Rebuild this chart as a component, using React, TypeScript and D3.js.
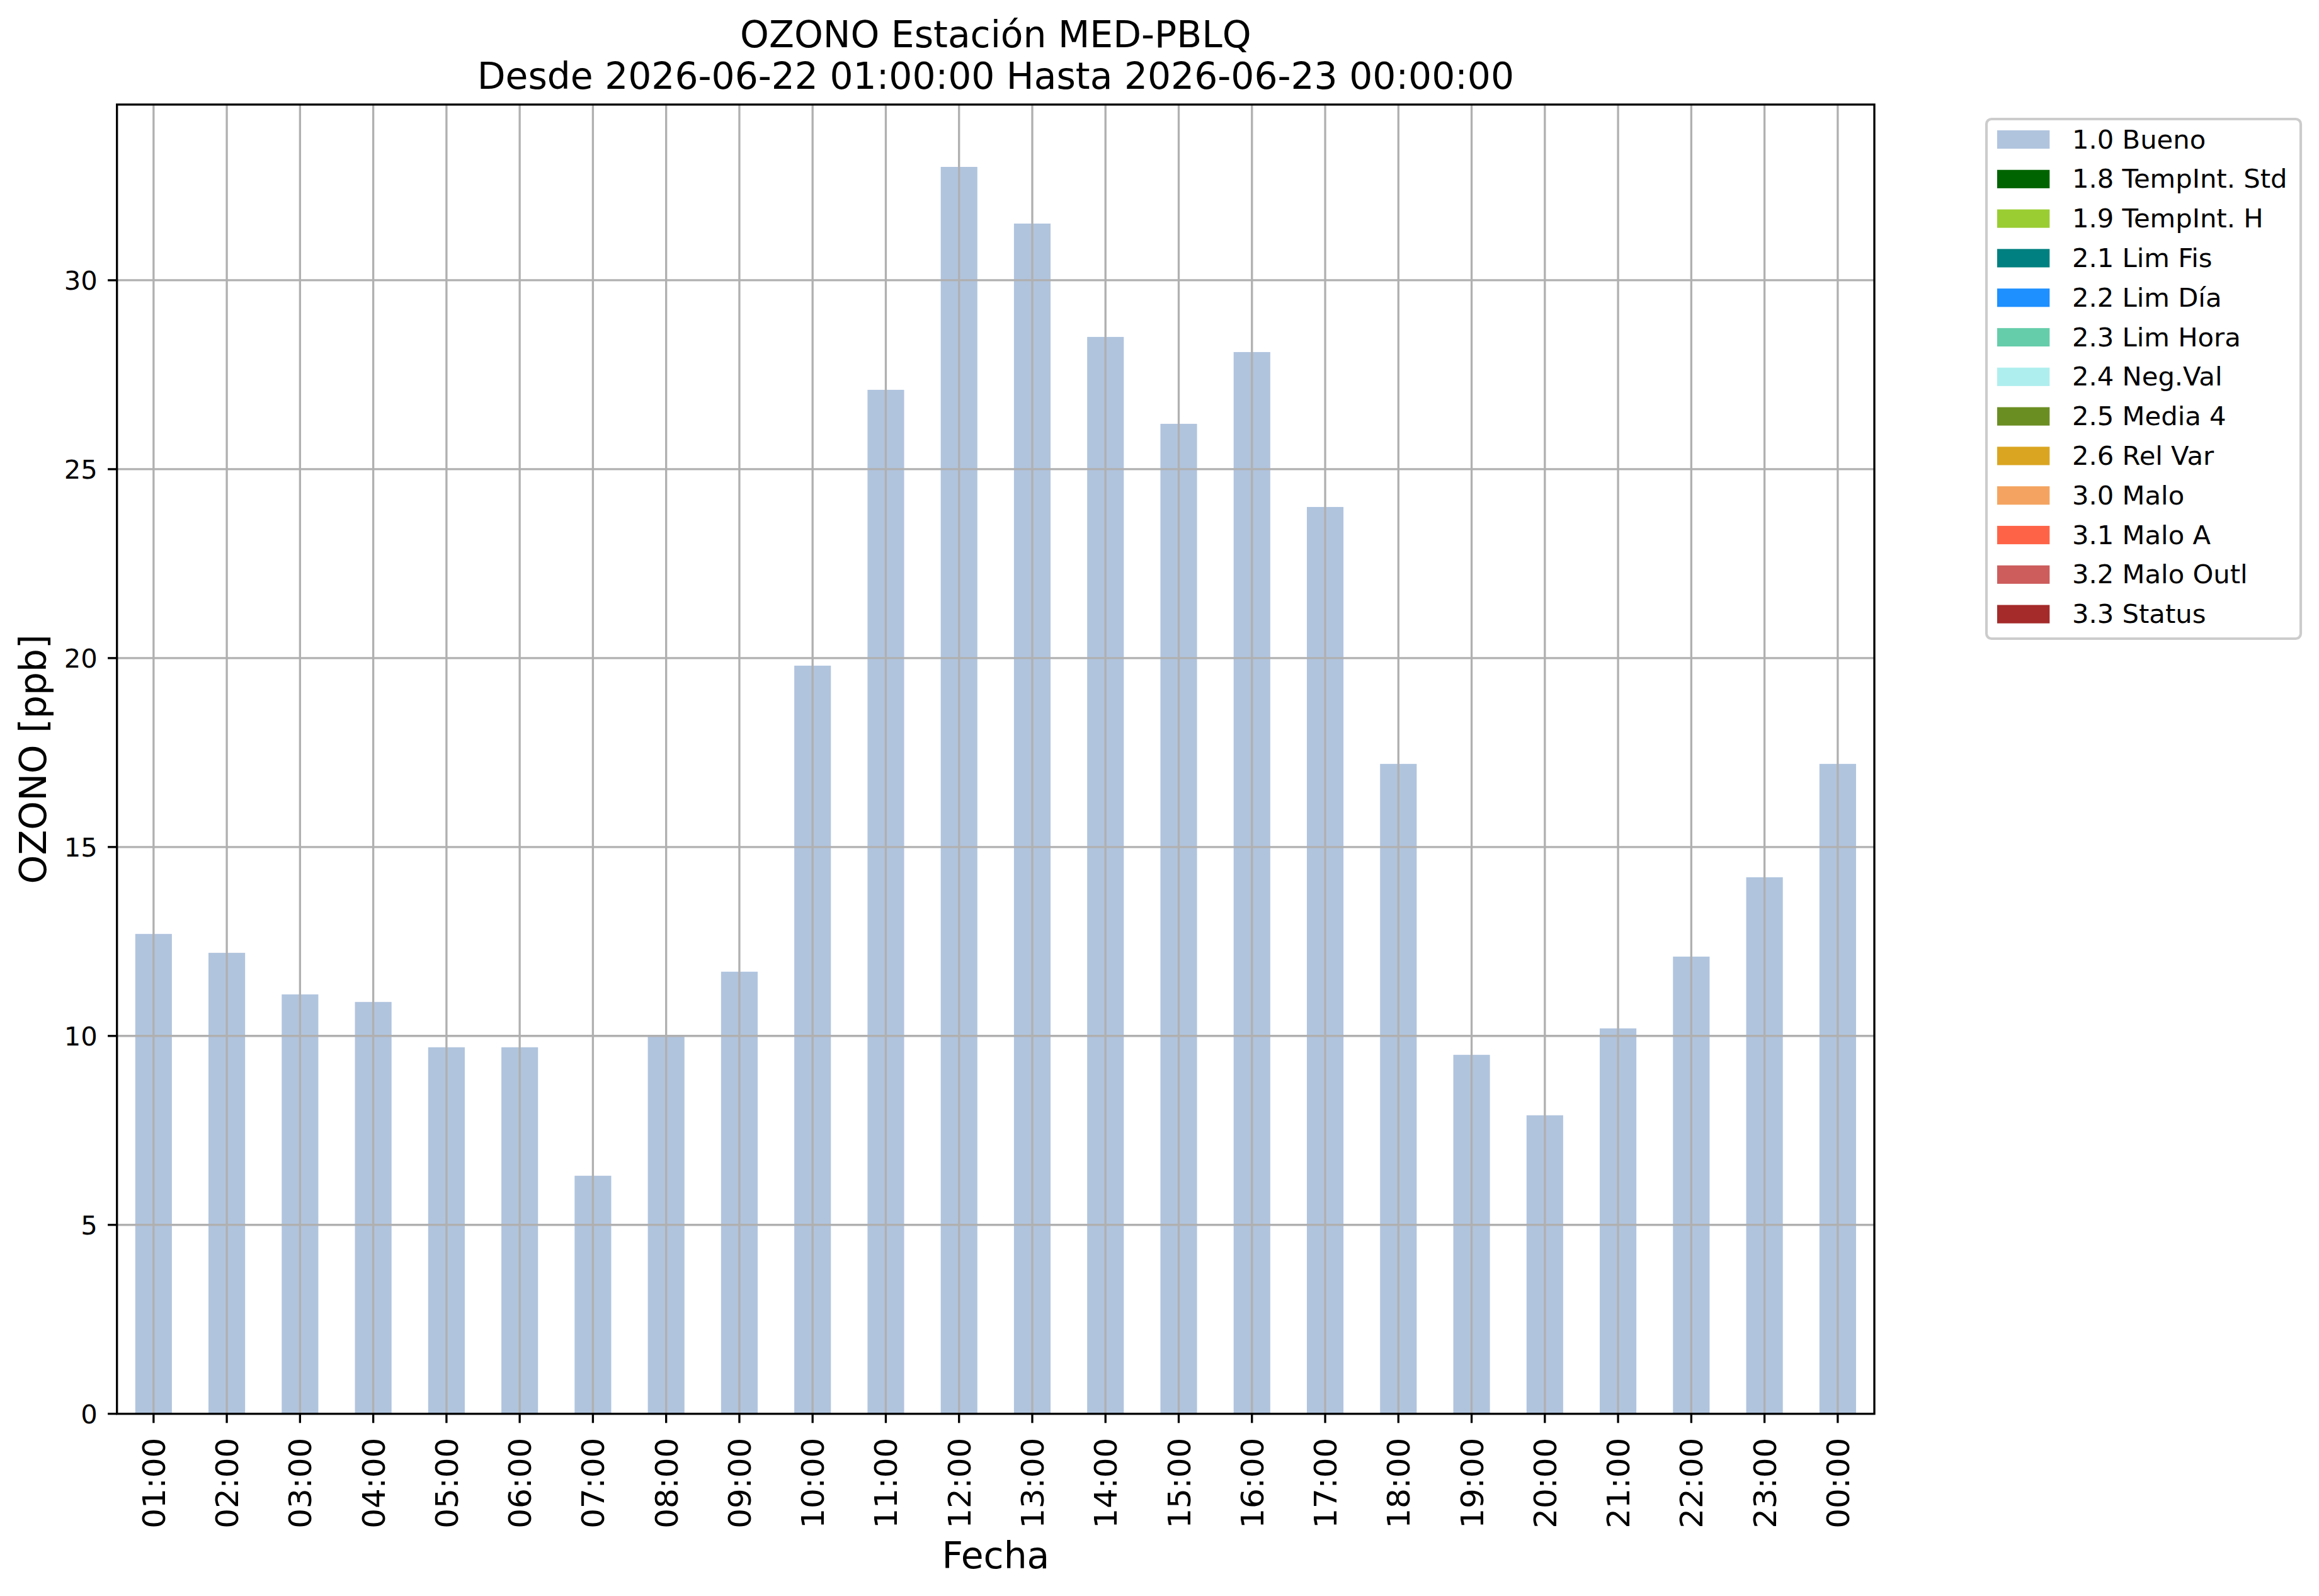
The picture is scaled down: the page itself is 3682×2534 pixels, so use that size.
import React from 'react';
import * as d3 from 'd3';

// hourly ozone values
const hours = [
  '01:00', '02:00', '03:00', '04:00', '05:00', '06:00', '07:00', '08:00',
  '09:00', '10:00', '11:00', '12:00', '13:00', '14:00', '15:00', '16:00',
  '17:00', '18:00', '19:00', '20:00', '21:00', '22:00', '23:00', '00:00',
];
const ozono = [
  12.7, 12.2, 11.1, 10.9, 9.7, 9.7, 6.3, 10.0,
  11.7, 19.8, 27.1, 33.0, 31.5, 28.5, 26.2, 28.1,
  24.0, 17.2, 9.5, 7.9, 10.2, 12.1, 14.2, 17.2,
];
const yTicks = [0, 5, 10, 15, 20, 25, 30];

const legendLabels = [
  '1.0 Bueno', '1.8 TempInt. Std', '1.9 TempInt. H', '2.1 Lim Fis',
  '2.2 Lim Día', '2.3 Lim Hora', '2.4 Neg.Val', '2.5 Media 4',
  '2.6 Rel Var', '3.0 Malo', '3.1 Malo A', '3.2 Malo Outl', '3.3 Status',
];
const legendColors = [
  '#b0c4de', '#006400', '#9acd32', '#008080',
  '#1e90ff', '#66cdaa', '#afeeee', '#6b8e23',
  '#daa520', '#f4a460', '#ff6347', '#cd5c5c', '#a52a2a',
];

const W = 3682;
const H = 2534;
const left = 185.7;
const right = 2976;
const top = 166;
const bottom = 2244.7;
const font = 'DejaVu Sans, sans-serif';
const gridColor = '#b0b0b0';
const lw = 3.33;

const App = () => {
  const x = d3
    .scaleBand<string>()
    .domain(hours)
    .range([left, right])
    .paddingInner(0.5)
    .paddingOuter(0.25);
  const y = d3
    .scaleLinear()
    .domain([0, d3.max(ozono) * 1.05])
    .range([bottom, top]);

  const cx = (h: string) => x(h) + x.bandwidth() / 2;

  return (
    <div style={{ position: 'absolute', left: 0, top: 0 }}>
      <svg width={W} height={H} style={{ display: 'block', background: '#fff' }}>
        <rect x={0} y={0} width={W} height={H} fill="#fff" />

        {/* bars */}
        {hours.map((h, i) => (
          <rect
            key={`bar${i}`}
            x={x(h)}
            y={y(ozono[i])}
            width={x.bandwidth()}
            height={y(0) - y(ozono[i])}
            fill={legendColors[0]}
          />
        ))}

        {/* grid */}
        {hours.map((h, i) => (
          <line
            key={`gx${i}`}
            x1={cx(h)}
            x2={cx(h)}
            y1={top}
            y2={bottom}
            stroke={gridColor}
            strokeWidth={lw}
          />
        ))}
        {yTicks.map(t => (
          <line
            key={`gy${t}`}
            x1={left}
            x2={right}
            y1={y(t)}
            y2={y(t)}
            stroke={gridColor}
            strokeWidth={lw}
          />
        ))}

        {/* spines */}
        <rect
          x={left}
          y={top}
          width={right - left}
          height={bottom - top}
          fill="none"
          stroke="#000"
          strokeWidth={lw}
        />

        {/* y ticks */}
        {yTicks.map(t => (
          <g key={`yt${t}`}>
            <line x1={left - 14.6} x2={left} y1={y(t)} y2={y(t)} stroke="#000" strokeWidth={lw} />
            <text
              x={left - 31}
              y={y(t) + 15}
              textAnchor="end"
              fontFamily={font}
              fontSize={41.7}
              fill="#000">
              {t}
            </text>
          </g>
        ))}

        {/* x ticks */}
        {hours.map((h, i) => (
          <g key={`xt${i}`}>
            <line x1={cx(h)} x2={cx(h)} y1={bottom} y2={bottom + 14.6} stroke="#000" strokeWidth={lw} />
            <text
              transform={`translate(${cx(h)},${bottom + 38}) rotate(-90)`}
              textAnchor="end"
              dy="0.36em"
              fontFamily={font}
              fontSize={50}
              fill="#000">
              {h}
            </text>
          </g>
        ))}

        {/* axis labels */}
        <text
          transform={`translate(73,${(top + bottom) / 2}) rotate(-90)`}
          textAnchor="middle"
          fontFamily={font}
          fontSize={58.3}
          fill="#000">
          OZONO [ppb]
        </text>
        <text
          x={(left + right) / 2}
          y={2490}
          textAnchor="middle"
          fontFamily={font}
          fontSize={58.3}
          fill="#000">
          Fecha
        </text>

        {/* title */}
        <text x={(left + right) / 2} y={75} textAnchor="middle" fontFamily={font} fontSize={58.3} fill="#000">
          OZONO Estación MED-PBLQ
        </text>
        <text x={(left + right) / 2} y={141} textAnchor="middle" fontFamily={font} fontSize={58.3} fill="#000">
          Desde 2026-06-22 01:00:00 Hasta 2026-06-23 00:00:00
        </text>

        {/* legend */}
        <rect
          x={3154}
          y={189}
          width={499}
          height={825}
          rx={8}
          ry={8}
          fill="#fff"
          fillOpacity={0.8}
          stroke="#cccccc"
          strokeWidth={4.17}
        />
        {legendLabels.map((lab, i) => {
          const ly = 221.5 + i * 62.8;
          return (
            <g key={`lg${i}`}>
              <rect x={3171} y={ly - 14.6} width={83.3} height={29.2} fill={legendColors[i]} />
              <text x={3290} y={ly + 14} fontFamily={font} fontSize={41.7} fill="#000">
                {lab}
              </text>
            </g>
          );
        })}
      </svg>
    </div>
  );
};

export default App;
